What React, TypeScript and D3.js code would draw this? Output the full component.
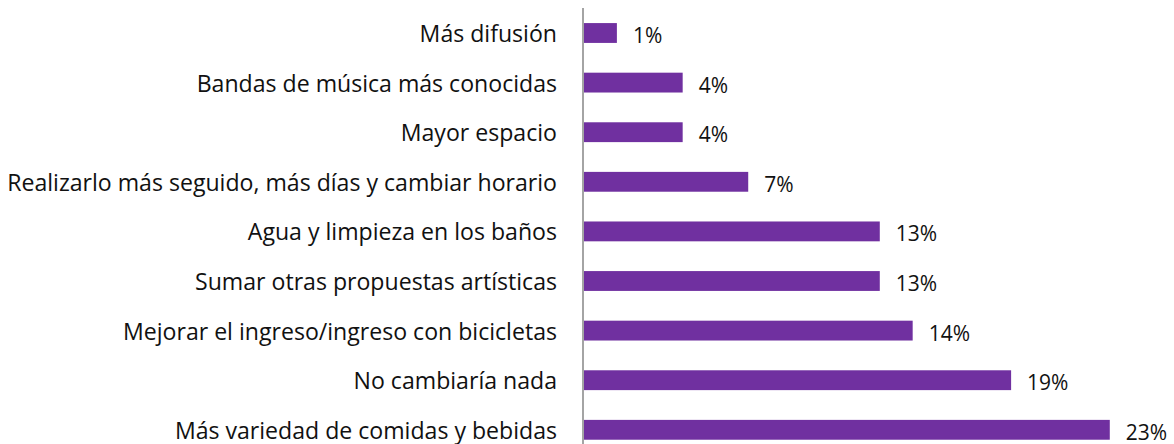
import React from "react";
import * as d3 from "d3";

const categories = [
  "Más difusión",
  "Bandas de música más conocidas",
  "Mayor espacio",
  "Realizarlo más seguido, más días y cambiar horario",
  "Agua y limpieza en los baños",
  "Sumar otras propuestas artísticas",
  "Mejorar el ingreso/ingreso con bicicletas",
  "No cambiaría nada",
  "Más variedad de comidas y bebidas",
];
const values = [1.43, 4.29, 4.29, 7.14, 12.86, 12.86, 14.29, 18.57, 22.86];
const valueLabels = ["1%", "4%", "4%", "7%", "13%", "13%", "14%", "19%", "23%"];

const W = 1174;
const H = 444;
const FONT = "'Open Sans', sans-serif";

export default function App() {
  const x = d3.scaleLinear().domain([0, 25]).range([584, 584 + 23 * 25]);
  const y = d3
    .scaleBand<string>()
    .domain(categories)
    .range([8.2, 8.2 + 49.6 * categories.length])
    .paddingInner(0.6)
    .paddingOuter(0.3);
  return (
    <svg
      width={W}
      height={H}
      style={{ position: "absolute", left: 0, top: 0, background: "#fff" }}
    >
      {categories.map((c, i) => {
        const yc = (y(c) as number) + y.bandwidth() / 2;
        return (
          <g key={c}>
            <rect
              x={x(0)}
              y={y(c)}
              width={x(values[i]) - x(0)}
              height={y.bandwidth()}
              fill="#7030A0"
            />
            <text
              x={557}
              y={yc}
              textAnchor="end"
              dominantBaseline="central"
              fontFamily={FONT}
              fontSize={23.1}
              fill="#111"
            >
              {c}
            </text>
            <text
              x={x(values[i]) + 16}
              y={yc + 2}
              dominantBaseline="central"
              fontFamily={FONT}
              fontSize={21}
              fill="#111"
            >
              {valueLabels[i]}
            </text>
          </g>
        );
      })}
      <line x1={583} x2={583} y1={8} y2={H} stroke="#868686" strokeWidth={1.5} />
    </svg>
  );
}
